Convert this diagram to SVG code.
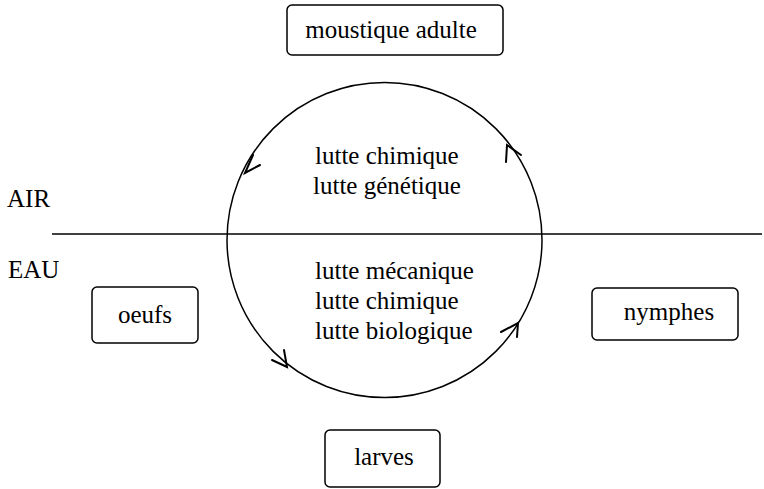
<svg xmlns="http://www.w3.org/2000/svg" width="764" height="489" viewBox="0 0 764 489">
<style>
.box{fill:#fff;stroke:#000;stroke-width:1.5}
.t{font-family:"Liberation Serif","Times New Roman",serif;font-size:25px;fill:#000}
.c{text-anchor:middle}
.ln{fill:none;stroke:#000;stroke-width:1.5}
.ah{fill:none;stroke:#000;stroke-width:2;stroke-linecap:round;stroke-linejoin:miter}
</style>
<rect width="764" height="489" fill="#fff"/>
<g id="connectors">
<circle class="ln" cx="384.5" cy="240" r="157.5"/>
<line class="ln" x1="52" y1="234" x2="762" y2="234"/>
<polyline class="ah" points="253,155 245,173 260,165"/>
<polyline class="ah" points="506,162 507,145 521,155"/>
<polyline class="ah" points="284,350 287,367 272,360"/>
<polyline class="ah" points="501,332 518,323 517,337"/>
</g>
<g id="adulte">
<rect class="box" x="287" y="5" width="216" height="50" rx="5"/>
<text class="t c" x="391" y="38">moustique adulte</text>
</g>
<g id="oeufs">
<rect class="box" x="92" y="287" width="106" height="56" rx="5"/>
<text class="t c" x="145" y="323">oeufs</text>
</g>
<g id="nymphes">
<rect class="box" x="592" y="288" width="146" height="52" rx="5"/>
<text class="t c" x="669" y="320">nymphes</text>
</g>
<g id="larves">
<rect class="box" x="325" y="430" width="115" height="57" rx="5"/>
<text class="t c" x="384" y="465">larves</text>
</g>
<g id="labels">
<text class="t" x="7" y="207">AIR</text>
<text class="t" x="8" y="278">EAU</text>
<text class="t" x="315" y="164">lutte chimique</text>
<text class="t" x="313" y="194">lutte génétique</text>
<text class="t" x="315" y="279">lutte mécanique</text>
<text class="t" x="315" y="309">lutte chimique</text>
<text class="t" x="315" y="339">lutte biologique</text>
</g>
</svg>
